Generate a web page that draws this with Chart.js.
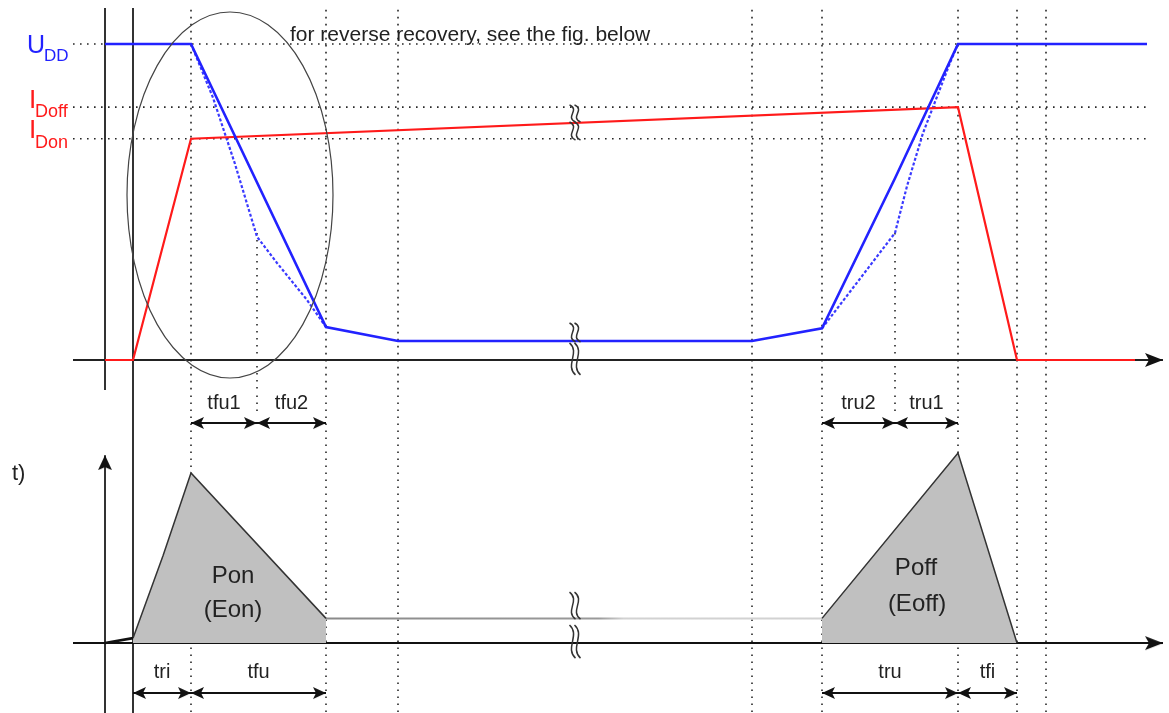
<!DOCTYPE html>
<html>
<head>
<meta charset="utf-8">
<script src="https://cdn.jsdelivr.net/npm/chart.js@4.4.0/dist/chart.umd.min.js"></script>
<style>
  html, body { margin: 0; padding: 0; background: #fff; }
  #wrap { position: relative; width: 1169px; height: 713px; }
  canvas { position: absolute; left: 0; display: block; }
  #topChart { top: 0; }
  #bottomChart { top: 390px; }
</style>
</head>
<body>
<div id="wrap">
  <canvas id="topChart" width="1169" height="390"></canvas>
  <canvas id="bottomChart" width="1169" height="323"></canvas>
</div>
<script>
// time axis (arbitrary units, 0 = start of turn-on)
const timeMarks = [58, 193, 265, 619, 689, 825, 884, 913];
const halfMarks = [124, 762];
const levelMarks = [1, 0.8, 0.7]; // UDD, IDoff, IDon

// collector-emitter voltage (solid)
const vceT = [-28, 58, 193, 265, 619, 689, 762, 825, 1014];
const vceV = [1, 1, 0.104, 0.06, 0.06, 0.10, 0.575, 1, 1];
// voltage with reverse recovery (dotted)
const vceDotOnT = [58, 80, 102, 124, 144, 174, 193];
const vceDotOnV = [1, 0.83, 0.62, 0.39, 0.307, 0.19, 0.104];
const vceDotOffT = [689, 762, 774, 790, 817, 825];
const vceDotOffV = [0.10, 0.402, 0.55, 0.718, 0.94, 1];
// collector current
const icT = [-28, 0, 58, 825, 884, 1002];
const icV = [0, 0, 0.70, 0.80, 0, 0];

// power
const leadT = [-28, 0];
const leadV = [0, 0.026];
const ponT = [0, 30, 58, 193];
const ponV = [0.026, 0.46, 0.895, 0.13];
const condT = [193, 689];
const condV = [0.13, 0.13];
const poffT = [689, 825, 884];
const poffV = [0.13, 1, 0];

// dimension arrows: [from, to, label]
const dimsUpper = [[58, 124, 'tfu1'], [124, 193, 'tfu2'], [689, 762, 'tru2'], [762, 825, 'tru1']];
const dimsLower = [[0, 58, 'tri'], [58, 193, 'tfu'], [689, 825, 'tru'], [825, 884, 'tfi']];

const BLUE = '#2222ff';
const RED = '#ff1a1a';
const FONT = '"Liberation Sans", Arial, sans-serif';

Chart.defaults.font.family = FONT;

function pts(ts, vs) {
  return ts.map((t, i) => ({ x: t, y: vs[i] }));
}

function line(data, opts) {
  return Object.assign({
    data: data,
    borderColor: '#222',
    borderWidth: 2,
    pointRadius: 0,
    fill: false,
    order: 3
  }, opts);
}

function dotted(data) {
  return line(data, { borderColor: 'rgba(0,0,0,0.85)', borderWidth: 1.6, borderDash: [1.6, 5.4], order: 9 });
}

function head(len, half, notch) {
  const c = document.createElement('canvas');
  c.width = len * 2;
  c.height = half * 2 + 2;
  const g = c.getContext('2d');
  const cy = c.height / 2;
  g.fillStyle = '#111';
  g.beginPath();
  g.moveTo(len, cy);
  g.lineTo(0, cy - half);
  g.lineTo(notch, cy);
  g.lineTo(0, cy + half);
  g.closePath();
  g.fill();
  return c;
}

const dimHead = head(13, 6, 3);
const axisHead = head(18, 7, 4);
const vHead = head(15, 7, 3);

function textPlugin(items) {
  return {
    id: 'diagramText',
    afterDatasetsDraw(chart) {
      const { ctx, scales: { x, y } } = chart;
      ctx.save();
      items.forEach(it => {
        ctx.font = it.font;
        ctx.fillStyle = it.color || '#222';
        ctx.textAlign = it.align || 'left';
        ctx.textBaseline = it.base || 'alphabetic';
        ctx.fillText(it.text, x.getPixelForValue(it.t), y.getPixelForValue(it.v));
      });
      ctx.restore();
    }
  };
}

// wavy break marks on the time axis
function breakPlugin(t, pieces) {
  return {
    id: 'breaks',
    afterDatasetsDraw(chart) {
      const { ctx, scales: { x, y } } = chart;
      const cx = x.getPixelForValue(t);
      ctx.save();
      ctx.strokeStyle = '#333';
      ctx.lineWidth = 1.5;
      pieces.forEach(p => {
        const y0 = y.getPixelForValue(p[0]);
        const y1 = y.getPixelForValue(p[1]);
        const h = y1 - y0;
        [-2.5, 2.5].forEach(dx => {
          ctx.beginPath();
          ctx.moveTo(cx + dx - 3, y0);
          ctx.bezierCurveTo(cx + dx + 8, y0 + h * 0.3, cx + dx - 8, y0 + h * 0.7, cx + dx + 3, y1);
          ctx.stroke();
        });
      });
      ctx.restore();
    }
  };
}

const ellipsePlugin = {
  id: 'ellipse',
  afterDatasetsDraw(chart) {
    const { ctx, scales: { x, y } } = chart;
    const cx = x.getPixelForValue(97), cy = y.getPixelForValue(0.522);
    const rx = x.getPixelForValue(97 + 103) - cx;
    const ry = cy - y.getPixelForValue(0.522 + 0.579);
    ctx.save();
    ctx.strokeStyle = '#444';
    ctx.lineWidth = 1.2;
    ctx.beginPath();
    ctx.ellipse(cx, cy, rx, ry, 0, 0, Math.PI * 2);
    ctx.stroke();
    ctx.restore();
  }
};

function baseOptions(ymin, ymax) {
  return {
    responsive: false,
    animation: false,
    devicePixelRatio: 1,
    events: [],
    layout: { padding: 0, autoPadding: false },
    elements: { point: { radius: 0 }, line: { tension: 0 } },
    plugins: { legend: { display: false }, tooltip: { enabled: false } },
    scales: {
      x: { type: 'linear', display: false, min: -133, max: 1036 },
      y: { type: 'linear', display: false, min: ymin, max: ymax }
    }
  };
}

// ---------- upper chart: voltage and current ----------
const topSets = [
  line(pts(vceT, vceV), { borderColor: BLUE, borderWidth: 2.6, order: 1 }),
  line(pts(icT, icV), { borderColor: RED, borderWidth: 2.2, order: 1 }),
  line(pts(vceDotOnT, vceDotOnV), { borderColor: '#3a3aff', borderWidth: 2.2, borderDash: [3, 2], order: 2 }),
  line(pts(vceDotOffT, vceDotOffV), { borderColor: '#3a3aff', borderWidth: 2.2, borderDash: [3, 2], order: 2 }),
  line([{ x: -60, y: 0 }, { x: 1030, y: 0 }], {
    borderColor: '#222', pointRadius: [0, 1], pointStyle: axisHead, pointRotation: 0, order: 4
  }),
  line([{ x: -28, y: 1.114 }, { x: -28, y: -0.1 }], { borderColor: '#333', order: 4 }),
  line([{ x: 0, y: 1.114 }, { x: 0, y: -0.1 }], { borderColor: '#333', order: 4 })
];
timeMarks.forEach(t => topSets.push(dotted([{ x: t, y: 1.108 }, { x: t, y: -0.1 }])));
halfMarks.forEach(t => topSets.push(dotted([{ x: t, y: 0.402 }, { x: t, y: -0.1 }])));
levelMarks.forEach(v => topSets.push(dotted([{ x: -60, y: v }, { x: 1014, y: v }])));

const topText = [
  { t: 157, v: 1.009, text: 'for reverse recovery, see the fig. below', font: '21px ' + FONT },
  { t: -106, v: 0.972, text: 'U', font: '25px ' + FONT, color: BLUE },
  { t: -89, v: 0.946, text: 'DD', font: '17px ' + FONT, color: BLUE },
  { t: -104, v: 0.797, text: 'I', font: '26px ' + FONT, color: RED },
  { t: -98, v: 0.769, text: 'Doff', font: '18px ' + FONT, color: RED },
  { t: -104, v: 0.703, text: 'I', font: '26px ' + FONT, color: RED },
  { t: -98, v: 0.671, text: 'Don', font: '18px ' + FONT, color: RED }
];

new Chart(document.getElementById('topChart'), {
  type: 'line',
  data: { datasets: topSets },
  options: baseOptions(-0.095, 1.139),
  plugins: [
    ellipsePlugin,
    breakPlugin(442, [[0.807, 0.753], [0.753, 0.696], [0.117, 0.057], [0.054, -0.047]]),
    textPlugin(topText)
  ]
});

// ---------- lower chart: switching power ----------
function condColor(context) {
  const { ctx, chartArea, scales } = context.chart;
  if (!chartArea) return '#999';
  const g = ctx.createLinearGradient(scales.x.getPixelForValue(193), 0, scales.x.getPixelForValue(689), 0);
  g.addColorStop(0, '#8a8a8a');
  g.addColorStop(0.55, '#9a9a9a');
  g.addColorStop(0.6, '#d2d2d2');
  g.addColorStop(1, '#d2d2d2');
  return g;
}

const bottomSets = [
  line(pts(ponT, ponV), { borderColor: '#333', borderWidth: 1.5, fill: 'origin', backgroundColor: '#c0c0c0', order: 2 }),
  line(pts(poffT, poffV), { borderColor: '#333', borderWidth: 1.5, fill: 'origin', backgroundColor: '#c0c0c0', order: 2 }),
  line(pts(condT, condV), { borderColor: condColor, borderWidth: 2, order: 2 }),
  line(pts(leadT, leadV), { borderColor: '#111', borderWidth: 2.6, order: 1 }),
  line([{ x: -60, y: 0 }, { x: 1030, y: 0 }], {
    borderColor: '#111', pointRadius: [0, 1], pointStyle: axisHead, pointRotation: 0, order: 3
  }),
  line([{ x: -28, y: -0.4 }, { x: -28, y: 0.989 }], {
    borderColor: '#333', pointRadius: [0, 1], pointStyle: vHead, pointRotation: -90, order: 4
  }),
  line([{ x: 0, y: 1.34 }, { x: 0, y: -0.4 }], { borderColor: '#333', order: 4 })
];
timeMarks.forEach(t => bottomSets.push(dotted([{ x: t, y: 1.34 }, { x: t, y: -0.4 }])));
halfMarks.forEach(t => bottomSets.push(dotted([{ x: t, y: 1.34 }, { x: t, y: 1.21 }])));

const bottomText = [
  { t: -121, v: 0.858, text: 't)', font: '22px ' + FONT },
  { t: 100, v: 0.353, text: 'Pon', font: '24px ' + FONT, align: 'center', base: 'middle' },
  { t: 100, v: 0.174, text: '(Eon)', font: '24px ' + FONT, align: 'center', base: 'middle' },
  { t: 783, v: 0.395, text: 'Poff', font: '24px ' + FONT, align: 'center', base: 'middle' },
  { t: 784, v: 0.205, text: '(Eoff)', font: '24px ' + FONT, align: 'center', base: 'middle' }
];

[[dimsUpper, 1.158, 1.263], [dimsLower, -0.263, -0.153]].forEach(([dims, yv, lv]) => {
  dims.forEach(([a, b, label]) => {
    bottomSets.push(line([{ x: a, y: yv }, { x: b, y: yv }], {
      borderColor: '#111', borderWidth: 2, pointRadius: [1, 1], pointStyle: dimHead,
      pointRotation: [180, 0], order: 1
    }));
    bottomText.push({ t: (a + b) / 2, v: lv, text: label, font: '20px ' + FONT, align: 'center', base: 'middle' });
  });
});

new Chart(document.getElementById('bottomChart'), {
  type: 'line',
  data: { datasets: bottomSets },
  options: baseOptions(-0.368, 1.332),
  plugins: [
    breakPlugin(442, [[0.268, 0.126], [0.095, -0.079]]),
    textPlugin(bottomText)
  ]
});
</script>
</body>
</html>
